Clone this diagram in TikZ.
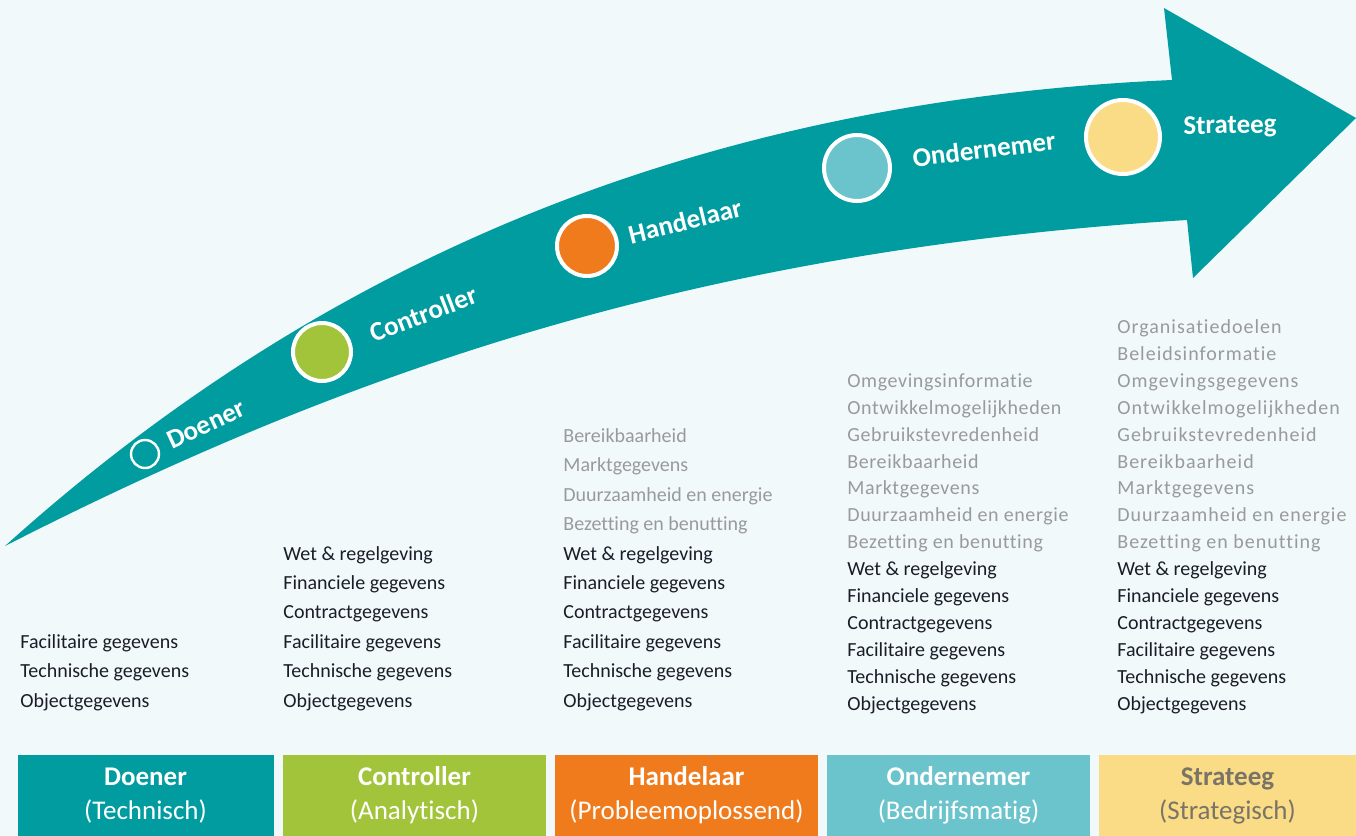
\documentclass[tikz,border=0pt]{standalone}
\usepackage{fontspec}
\setmainfont{Carlito}[Ligatures=NoCommon]
\usepackage{tikz}
\usetikzlibrary{positioning}
\definecolor{bgblue}{HTML}{F1F9FB}
\definecolor{teal}{HTML}{009CA0}
\definecolor{lime}{HTML}{A2C43A}
\definecolor{orange}{HTML}{EF7B1C}
\definecolor{lightblue}{HTML}{6BC4CB}
\definecolor{sand}{HTML}{F9DC85}
\definecolor{softgray}{HTML}{9A9A9A}
\definecolor{ink}{HTML}{1C1C28}
\definecolor{stone}{HTML}{7A7467}
\def\grspace{0}
\newcommand\gr[1]{\textcolor{softgray}{\addfontfeatures{LetterSpace=\grspace}#1}}
\def\Basis{Facilitaire gegevens\\Technische gegevens\\Objectgegevens}
\def\Beheer{Wet \& regelgeving\\Financiele gegevens\\Contractgegevens\\\Basis}
\def\Markt{\gr{Bereikbaarheid}\\\gr{Marktgegevens}\\\gr{Duurzaamheid en energie}\\\gr{Bezetting en benutting}}
\def\Omgeving{\gr{Ontwikkelmogelijkheden}\\\gr{Gebruikstevredenheid}\\\Markt}

\begin{document}
\begin{tikzpicture}[x=0.5pt,y=-0.5pt,% pixel grid of the reference, y runs down
			every node/.style={
				align=left,		% "\\" breaks the lists
				inner sep=0pt
			},
			stage/.style={circle,draw=white,line width=2pt,inner sep=0pt},
			steplabel/.style={text=white,font=\fontsize{13.5}{16}\selectfont\bfseries,anchor=center},
			datalist/.style={text=ink,anchor=south west,font=\fontsize{10}{14.7}\selectfont},
			widelist/.style={datalist,font=\fontsize{10}{13.45}\selectfont\def\grspace{#1}},
			rolebox/.style={align=center,text=white,minimum height=40.5pt,font=\fontsize{13.5}{17}\selectfont}
		]
		\fill[bgblue] (0,0) rectangle (1356,836);
		% the arrow
		\fill[teal] (5,546) .. controls (350,370) and (700,250) .. (1187,220)
			-- (1193,278) -- (1356,118) -- (1164,8) -- (1172,80)
			.. controls (722,100) and (339,245) .. (5,546) -- cycle;
		% stages on the arrow
		\node[stage,fill=teal,minimum size=14pt,line width=1.2pt](C1) at (145,454) {};
		\node[stage,fill=lime,minimum size=29pt](C2) at (322,352) {};
		\node[stage,fill=orange,minimum size=30pt](C3) at (587,246) {};
		\node[stage,fill=lightblue,minimum size=33pt](C4) at (857,168) {};
		\node[stage,fill=sand,minimum size=37pt](C5) at (1123,137) {};
		\node[steplabel,rotate=25](L1) at (206,424) {Doener};
		\node[steplabel,rotate=21](L2) at (423,314) {Controller};
		\node[steplabel,rotate=14](L3) at (685,221) {Handelaar};
		\node[steplabel,rotate=7](L4) at (984,149) {Ondernemer};
		\node[steplabel,rotate=1](L5) at (1230,127) {Strateeg};
		% data per stage
		\node[datalist](D1) at (20,711) {\Basis};
		\node[datalist](D2) at (283,711) {\Beheer};
		\node[datalist](D3) at (563,711) {\Markt\\\Beheer};
		\node[widelist=3](D4) at (847,714) {\gr{Omgevingsinformatie}\\\Omgeving\\\Beheer};
		\node[widelist=5](D5) at (1117,714) {\gr{Organisatiedoelen}\\\gr{Beleidsinformatie}\\\gr{Omgevingsgegevens}\\\Omgeving\\\Beheer};
		% roles
		\node[rolebox,fill=teal,minimum width=128pt](B1) at (145.5,795.5) {\textbf{Doener}\\(Technisch)};
		\node[rolebox,fill=lime,minimum width=131.5pt](B2) at (414.5,795.5) {\textbf{Controller}\\(Analytisch)};
		\node[rolebox,fill=orange,minimum width=131.5pt](B3) at (686.5,795.5) {\textbf{Handelaar}\\(Probleemoplossend)};
		\node[rolebox,fill=lightblue,minimum width=131.5pt](B4) at (958.5,795.5) {\textbf{Ondernemer}\\(Bedrijfsmatig)};
		\node[rolebox,fill=sand,text=stone,minimum width=128.5pt](B5) at (1227.5,795.5) {\textbf{Strateeg}\\(Strategisch)};
	\end{tikzpicture}
\end{document}
